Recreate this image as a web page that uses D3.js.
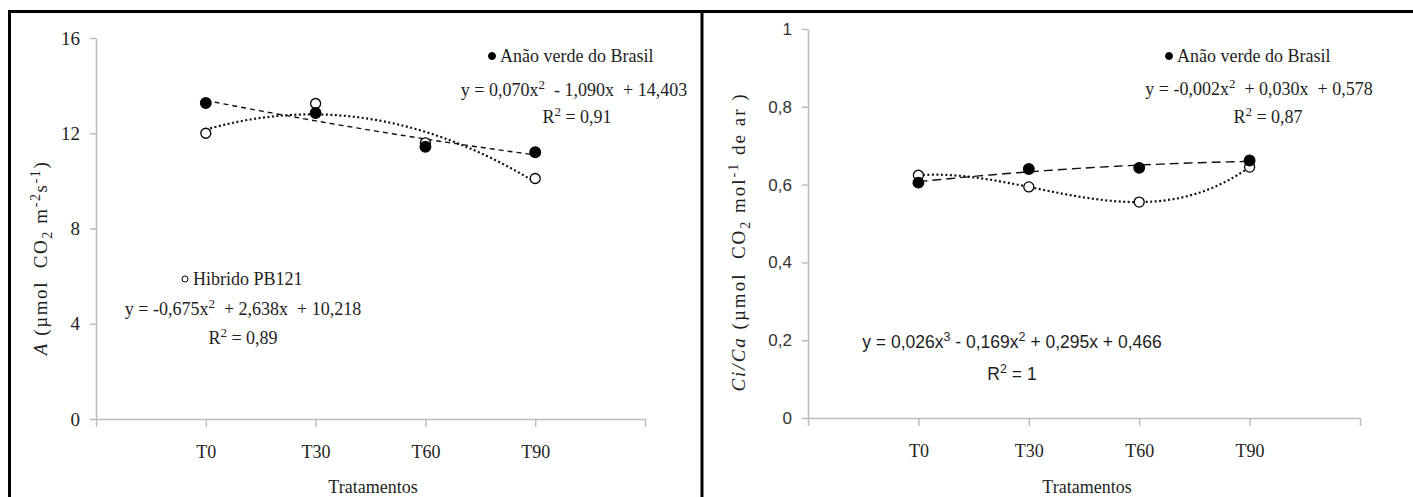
<!DOCTYPE html>
<html>
<head>
<meta charset="utf-8">
<script src="https://cdn.jsdelivr.net/npm/d3@7"></script>
<style>
  body { margin: 0; background: #fff; }
  svg { display: block; }
</style>
</head>
<body>
<div id="graph"></div>
<script>
// values
var categories = ["T0", "T30", "T60", "T90"];

var photoAnao = [13.27, 12.85, 11.43, 11.2];
var photoHibrido = [12.0, 13.25, 11.6, 10.1];
var photoTicks = [0, 4, 8, 12, 16];

var ciAnao = [0.605, 0.64, 0.643, 0.662];
var ciHibrido = [0.624, 0.594, 0.555, 0.645];
var ciTicks = [0, 0.2, 0.4, 0.6, 0.8, 1];

var SERIF = "'Liberation Serif', 'Times New Roman', serif";
var SANS = "'Liberation Sans', Arial, sans-serif";
var INK = "#1e1e1e";

var W = 1413, H = 497;

var svg = d3.select("#graph").append("svg")
  .attr("width", W).attr("height", H);

// frame of the two panels
var frame = svg.append("g").attr("stroke", "#000").attr("stroke-width", 3);
frame.append("line").attr("x1", 8).attr("x2", W).attr("y1", 11.5).attr("y2", 11.5);
frame.append("line").attr("x1", 9.5).attr("x2", 9.5).attr("y1", 10).attr("y2", H);
frame.append("line").attr("x1", 702).attr("x2", 702).attr("y1", 10).attr("y2", H);

// least squares polynomial, like the spreadsheet trendline
function polyFit(ys, deg) {
  var n = deg + 1, A = [], i, j, k;
  for (i = 0; i < n; i++) {
    A[i] = [];
    for (j = 0; j <= n; j++) A[i][j] = 0;
  }
  ys.forEach(function(y, idx) {
    var x = idx + 1;
    for (i = 0; i < n; i++) {
      for (j = 0; j < n; j++) A[i][j] += Math.pow(x, i + j);
      A[i][n] += y * Math.pow(x, i);
    }
  });
  for (i = 0; i < n; i++) {
    for (k = i + 1; k < n; k++) {
      var f = A[k][i] / A[i][i];
      for (j = i; j <= n; j++) A[k][j] -= f * A[i][j];
    }
  }
  var c = [];
  for (i = n - 1; i >= 0; i--) {
    var s = A[i][n];
    for (j = i + 1; j < n; j++) s -= A[i][j] * c[j];
    c[i] = s / A[i][i];
  }
  return function(x) {
    var v = 0;
    for (var p = 0; p < n; p++) v += c[p] * Math.pow(x, p);
    return v;
  };
}

function drawPanel(o) {
  var g = svg.append("g");
  var x = d3.scaleLinear().domain([0, 5]).range(o.xr);
  var y = d3.scaleLinear().domain(o.yd).range(o.yr);

  var yAxis = g.append("g")
    .attr("transform", "translate(" + o.xr[0] + ",0)")
    .call(d3.axisLeft(y).tickValues(o.ticks).tickSize(6).tickSizeOuter(0).tickFormat(o.fmt));
  yAxis.attr("font-family", null).attr("font-size", null);
  yAxis.selectAll("text")
    .attr("x", -16)
    .attr("font-family", o.tickFont)
    .attr("font-size", o.tickSize)
    .attr("fill", o.tickColor);

  var xAxis = g.append("g")
    .attr("transform", "translate(0," + o.yr[0] + ")")
    .call(d3.axisBottom(x).tickValues([0, 1, 2, 3, 4, 5]).tickSize(8).tickSizeOuter(0)
      .tickFormat(function(i) { return categories[i - 1] || ""; }));
  xAxis.attr("font-family", null).attr("font-size", null);
  xAxis.selectAll("text")
    .attr("y", 39).attr("dy", 0)
    .attr("font-family", SERIF).attr("font-size", 18).attr("fill", INK);

  g.selectAll(".domain, .tick line").attr("stroke", "#bdbdbd").attr("stroke-width", 1.5);

  g.append("text")
    .attr("x", o.titleX).attr("y", 493)
    .attr("text-anchor", "middle")
    .attr("font-family", SERIF).attr("font-size", 18).attr("fill", INK)
    .text("Tratamentos");

  // trendlines
  var xs = d3.range(1, 4.001, 0.05);
  o.series.forEach(function(s) {
    var fit = polyFit(s.values, s.deg);
    g.append("path")
      .datum(xs)
      .attr("fill", "none")
      .attr("stroke", "#111")
      .attr("stroke-width", s.filled ? 1.4 : 2.2)
      .attr("stroke-dasharray", s.dash)
      .attr("d", d3.line().x(function(d) { return x(d); }).y(function(d) { return y(fit(d)); }));
  });

  // markers
  o.series.forEach(function(s) {
    g.selectAll(null).data(s.values).enter().append("circle")
      .attr("cx", function(d, i) { return x(i + 1); })
      .attr("cy", function(d) { return y(d); })
      .attr("r", s.filled ? 5.3 : 5)
      .attr("fill", s.filled ? "#000" : "#fff")
      .attr("stroke", "#000")
      .attr("stroke-width", 1.3);
  });
  return g;
}

var left = drawPanel({
  xr: [96, 645], yr: [419, 38], yd: [0, 16], ticks: photoTicks,
  fmt: d3.format("d"), tickFont: SERIF, tickSize: 19, tickColor: INK, titleX: 373,
  series: [
    { values: photoHibrido, filled: false, deg: 2, dash: "2,2.5" },
    { values: photoAnao, filled: true, deg: 2, dash: "5,4" }
  ]
});

var right = drawPanel({
  xr: [808, 1360], yr: [418, 29], yd: [0, 1], ticks: ciTicks,
  fmt: function(d) { return String(d).replace(".", ","); },
  tickFont: SANS, tickSize: 17, tickColor: "#333", titleX: 1087,
  series: [
    { values: ciHibrido, filled: false, deg: 3, dash: "2,2.5" },
    { values: ciAnao, filled: true, deg: 2, dash: "9,5" }
  ]
});

// rich text: strings, {dn: ".."} subscripts and {up: ".."} superscripts
function richText(sel, parts, size) {
  var shift = 0;
  parts.forEach(function(p) {
    var t = sel.append("tspan");
    var txt, target = 0, small = false;
    if (typeof p === "string") { txt = p; }
    else if (p.up !== undefined) { txt = p.up; target = -7; small = true; }
    else { txt = p.dn; target = 5; small = true; }
    if (target - shift !== 0) t.attr("dy", target - shift);
    shift = target;
    if (small) t.attr("font-size", size - 5);
    t.text(txt);
  });
}

// y axis titles
var ly = svg.append("text")
  .attr("transform", "translate(47,258) rotate(-90)")
  .attr("text-anchor", "middle")
  .attr("font-family", SERIF).attr("font-size", 19).attr("fill", INK)
  .style("letter-spacing", "1.6px").style("white-space", "pre");
ly.append("tspan").attr("font-style", "italic").text("A");
richText(ly, [" (µmol  CO", { dn: "2" }, " m", { up: "-2" }, "s", { up: "-1" }, ")"], 19);

var ry = svg.append("text")
  .attr("transform", "translate(745,242) rotate(-90)")
  .attr("text-anchor", "middle")
  .attr("font-family", SERIF).attr("font-size", 19).attr("fill", INK)
  .style("letter-spacing", "2px").style("white-space", "pre");
ry.append("tspan").attr("font-style", "italic").text("Ci/Ca");
richText(ry, [" (µmol  CO", { dn: "2" }, " mol", { up: "-1" }, " de ar )"], 19);

// legends and equations
function legend(x0, baseY, label, filled) {
  svg.append("text")
    .attr("x", x0).attr("y", baseY)
    .attr("font-family", SERIF).attr("font-size", 18).attr("fill", INK)
    .text(label);
  svg.append("circle")
    .attr("cx", x0 - 8).attr("cy", baseY - 6).attr("r", filled ? 3.5 : 3)
    .attr("fill", filled ? "#000" : "#fff").attr("stroke", "#000").attr("stroke-width", 1);
}

function equation(cx, baseY, parts, font, size) {
  var t = svg.append("text")
    .attr("x", cx).attr("y", baseY).attr("text-anchor", "middle")
    .attr("font-family", font).attr("font-size", size).attr("fill", INK)
    .style("white-space", "pre");
  richText(t, parts, size);
}

legend(500, 62, "Anão verde do Brasil", true);
equation(574, 96, ["y = 0,070x", { up: "2" }, "  - 1,090x  + 14,403"], SERIF, 18);
equation(577, 123, ["R", { up: "2" }, " = 0,91"], SERIF, 18);

legend(193, 285, "Hibrido PB121", false);
equation(243, 315, ["y = -0,675x", { up: "2" }, "  + 2,638x  + 10,218"], SERIF, 18);
equation(243, 344, ["R", { up: "2" }, " = 0,89"], SERIF, 18);

legend(1177, 62, "Anão verde do Brasil", true);
equation(1259, 95, ["y = -0,002x", { up: "2" }, "  + 0,030x  + 0,578"], SERIF, 18);
equation(1268, 123, ["R", { up: "2" }, " = 0,87"], SERIF, 18);

equation(1012, 348, ["y = 0,026x", { up: "3" }, " - 0,169x", { up: "2" }, " + 0,295x + 0,466"], SANS, 17.5);
equation(1012, 380, ["R", { up: "2" }, " = 1"], SANS, 17.5);
</script>
</body>
</html>
